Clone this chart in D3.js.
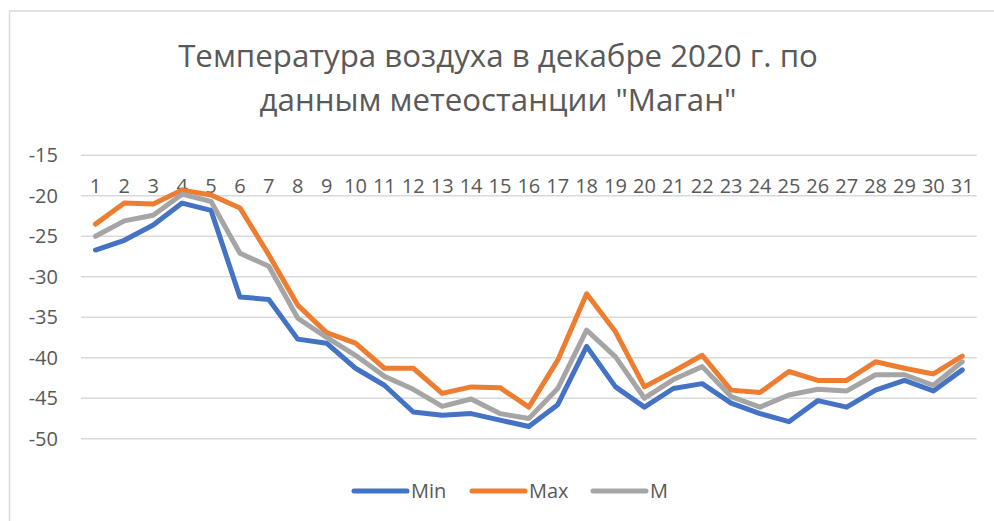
<!DOCTYPE html>
<html lang="ru">
<head>
<meta charset="UTF-8">
<title>Температура воздуха в декабре 2020 г.</title>
<script src="https://d3js.org/d3.v7.min.js"></script>
<style>
    body { margin: 0; padding: 0; background: #fff; }
    svg { display: block; font-family: 'Open Sans', sans-serif; }
    .title { fill: #595959; text-anchor: middle; }
    .tick-label { fill: #595959; font-size: 20px; }
    .legend-text { fill: #595959; font-size: 20px; }
    .grid line { stroke: #d9d9d9; stroke-width: 1.5; }
</style>
</head>
<body>
<svg width="994" height="521"></svg>
<script>
    const days = d3.range(1, 32).map(String);
    const minTemp = [-26.7, -25.5, -23.6, -20.9, -21.8, -32.5, -32.8, -37.7, -38.2, -41.3,
                     -43.4, -46.7, -47.1, -46.9, -47.7, -48.5, -45.8, -38.6, -43.6, -46.1,
                     -43.8, -43.2, -45.6, -46.9, -47.9, -45.3, -46.1, -44.0, -42.8, -44.1, -41.5];
    const maxTemp = [-23.5, -20.9, -21.0, -19.3, -19.9, -21.5, -27.3, -33.5, -36.9, -38.2,
                     -41.3, -41.3, -44.4, -43.6, -43.7, -46.1, -40.3, -32.1, -36.8, -43.6,
                     -41.7, -39.7, -44.0, -44.3, -41.7, -42.8, -42.8, -40.5, -41.3, -42.0, -39.8];
    const meanTemp = [-25.0, -23.1, -22.4, -19.8, -20.7, -27.1, -28.7, -35.1, -37.5, -39.7,
                      -42.3, -43.9, -46.0, -45.1, -46.9, -47.5, -43.8, -36.6, -39.9, -45.0,
                      -42.7, -41.1, -44.8, -46.1, -44.6, -43.9, -44.1, -42.1, -42.1, -43.4, -40.5];
    const yTicks = [-15, -20, -25, -30, -35, -40, -45, -50];

    const series = [
        { name: "Min", values: minTemp, color: "#4472c4" },
        { name: "Max", values: maxTemp, color: "#ed7d31" },
        { name: "M", values: meanTemp, color: "#a5a5a5" }
    ];

    const svg = d3.select("svg");

    // chart border
    svg.append("rect")
        .attr("x", 9.5).attr("y", 11).attr("width", 1000).attr("height", 520)
        .attr("fill", "none").attr("stroke", "#d9d9d9").attr("stroke-width", 1.5);

    // title
    const title1 = svg.append("text").attr("class", "title")
        .attr("x", 498).attr("y", 67).style("font-size", "30px")
        .text("Температура воздуха в декабре 2020 г. по");
    const fit = 30 * 640 / title1.node().getComputedTextLength();
    title1.style("font-size", fit + "px");
    svg.append("text").attr("class", "title")
        .attr("x", 498).attr("y", 111).style("font-size", fit + "px")
        .text("данным метеостанции \"Маган\"");

    const x = d3.scaleBand().domain(days).range([81, 976.7]);
    const y = d3.scaleLinear().domain([-50, -15]).range([438.7, 155.3]);

    // gridlines
    svg.append("g").attr("class", "grid")
        .selectAll("line").data(yTicks).enter().append("line")
        .attr("x1", 81).attr("x2", 976.7)
        .attr("y1", d => y(d)).attr("y2", d => y(d));

    // y labels
    svg.append("g").selectAll("text").data(yTicks).enter().append("text")
        .attr("class", "tick-label")
        .attr("x", 58).attr("y", d => y(d))
        .attr("dy", "0.35em").attr("text-anchor", "end")
        .text(d => d);

    // category labels (sit just above the -20 line)
    svg.append("g").selectAll("text").data(days).enter().append("text")
        .attr("class", "tick-label")
        .attr("x", d => x(d) + x.bandwidth() / 2)
        .attr("y", y(-19.6))
        .attr("text-anchor", "middle")
        .text(d => d);

    const line = d3.line()
        .x((d, i) => x(days[i]) + x.bandwidth() / 2)
        .y(d => y(d));

    svg.append("g").selectAll("path").data(series).enter().append("path")
        .attr("d", d => line(d.values))
        .attr("fill", "none")
        .attr("stroke", d => d.color)
        .attr("stroke-width", 5)
        .attr("stroke-linejoin", "round")
        .attr("stroke-linecap", "round");

    // legend
    const legendX = [352, 470, 591];
    const legend = svg.append("g").selectAll("g").data(series).enter().append("g")
        .attr("transform", (d, i) => `translate(${legendX[i]},491)`);
    legend.append("line")
        .attr("x1", 2).attr("x2", 55)
        .attr("stroke", d => d.color).attr("stroke-width", 5)
        .attr("stroke-linecap", "round");
    legend.append("text").attr("class", "legend-text")
        .attr("x", 59).attr("dy", "0.35em")
        .text(d => d.name);
</script>
</body>
</html>
